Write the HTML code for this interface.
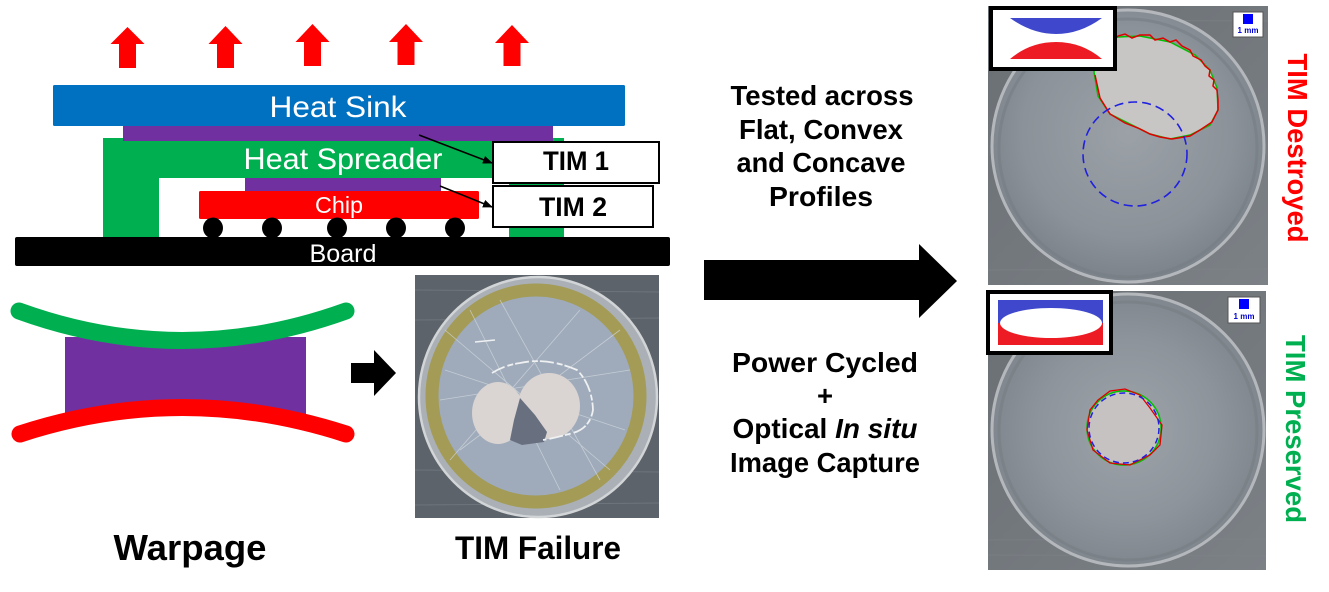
<!DOCTYPE html>
<html><head><meta charset="utf-8"><style>
html,body{margin:0;padding:0;background:#fff;}
svg{display:block;}
text{font-family:"Liberation Sans",Arial,sans-serif;}
</style></head><body>
<svg width="1329" height="592" viewBox="0 0 1329 592" xmlns="http://www.w3.org/2000/svg">
<defs>
<marker id="ah" markerWidth="10" markerHeight="8" refX="9" refY="4" orient="auto" markerUnits="userSpaceOnUse">
<path d="M0,0 L10,4 L0,8 Z" fill="#000"/>
</marker>
<radialGradient id="dish1" cx="0.5" cy="0.45" r="0.55">
<stop offset="0" stop-color="#9ba1a7"/><stop offset="0.7" stop-color="#8b9299"/><stop offset="1" stop-color="#7b828a"/>
</radialGradient>
<radialGradient id="dish2" cx="0.5" cy="0.5" r="0.55">
<stop offset="0" stop-color="#9da3a9"/><stop offset="0.6" stop-color="#8d949b"/><stop offset="1" stop-color="#7c838a"/>
</radialGradient>
<linearGradient id="bgph" x1="0" y1="0" x2="1" y2="1">
<stop offset="0" stop-color="#6a6f74"/><stop offset="1" stop-color="#7c8186"/>
</linearGradient>
</defs>

<!-- red heat arrows -->
<g fill="#FF0000">
<polygon points="127.5,27 144.5,44 136,44 136,68 119,68 119,44 110.5,44"/>
<polygon points="225.5,26 242.5,44 234,44 234,68 217,68 217,44 208.5,44"/>
<polygon points="312.5,24 329.5,42 321,42 321,66 304,66 304,42 295.5,42"/>
<polygon points="406,24 423,42 414.5,42 414.5,65 397.5,65 397.5,42 389,42"/>
<polygon points="512,25 529,43 520.5,43 520.5,66 503.5,66 503.5,43 495,43"/>
</g>

<!-- package stack -->
<rect x="53" y="85" width="572" height="41" rx="1.5" fill="#0070C0"/>
<text x="338" y="117" font-size="30" fill="#fff" text-anchor="middle" textLength="137" lengthAdjust="spacingAndGlyphs">Heat Sink</text>
<path d="M103 138 H564 V237 H509 V178 H159 V237 H103 Z" fill="#00B050"/>
<rect x="123" y="126" width="430" height="15" fill="#7030A0"/>
<text x="343" y="169" font-size="30" fill="#fff" text-anchor="middle" textLength="199" lengthAdjust="spacingAndGlyphs">Heat Spreader</text>
<rect x="245" y="178" width="196" height="13" fill="#7030A0"/>
<rect x="199" y="191" width="280" height="28" rx="1.5" fill="#FF0000"/>
<text x="339" y="213" font-size="23" fill="#fff" text-anchor="middle" textLength="48" lengthAdjust="spacingAndGlyphs">Chip</text>
<g fill="#000">
<ellipse cx="213" cy="228" rx="10" ry="10.5"/>
<ellipse cx="272" cy="228" rx="10" ry="10.5"/>
<ellipse cx="337" cy="228" rx="10" ry="10.5"/>
<ellipse cx="396" cy="228" rx="10" ry="10.5"/>
<ellipse cx="455" cy="228" rx="10" ry="10.5"/>
</g>
<rect x="15" y="237" width="655" height="29" rx="2" fill="#000"/>
<text x="343" y="262" font-size="25" fill="#fff" text-anchor="middle" textLength="67" lengthAdjust="spacingAndGlyphs">Board</text>

<!-- TIM labels -->
<rect x="493" y="142" width="166" height="41" fill="#fff" stroke="#000" stroke-width="2"/>
<text x="576" y="170" font-size="27" font-weight="bold" fill="#000" text-anchor="middle" textLength="66" lengthAdjust="spacingAndGlyphs">TIM 1</text>
<rect x="493" y="186" width="160" height="41" fill="#fff" stroke="#000" stroke-width="2"/>
<text x="573" y="216" font-size="27" font-weight="bold" fill="#000" text-anchor="middle" textLength="68" lengthAdjust="spacingAndGlyphs">TIM 2</text>
<line x1="419" y1="135" x2="492" y2="163" stroke="#000" stroke-width="1.6" marker-end="url(#ah)"/>
<line x1="440" y1="186" x2="492" y2="207" stroke="#000" stroke-width="1.6" marker-end="url(#ah)"/>

<!-- warpage graphic -->
<rect x="65" y="337" width="241" height="77" fill="#7030A0"/>
<path d="M19 311 Q182 370 346 311" fill="none" stroke="#00B050" stroke-width="17" stroke-linecap="round"/>
<path d="M20 434 Q182 381 346 434" fill="none" stroke="#FF0000" stroke-width="17" stroke-linecap="round"/>
<polygon points="351,363 374,363 374,350 396,373 374,396 374,383 351,383" fill="#000"/>

<!-- TIM failure photo -->
<rect x="415" y="275" width="244" height="243" fill="#5d636a"/>
<g stroke="#7a8088" stroke-width="1" opacity="0.6">
<line x1="415" y1="290" x2="659" y2="292"/><line x1="415" y1="320" x2="659" y2="318"/>
<line x1="415" y1="470" x2="659" y2="472"/><line x1="415" y1="505" x2="659" y2="503"/>
</g>
<ellipse cx="538" cy="397" rx="119" ry="120" fill="#aab0b5" stroke="#d2d5d7" stroke-width="2.5"/>
<ellipse cx="536" cy="396" rx="104" ry="106" fill="#9fabba" stroke="#a39b56" stroke-width="13"/>
<g stroke="#d5dbe2" stroke-width="0.8" opacity="0.7" fill="none">
<line x1="445" y1="330" x2="610" y2="470"/><line x1="460" y1="450" x2="620" y2="330"/>
<line x1="470" y1="310" x2="560" y2="490"/><line x1="440" y1="400" x2="630" y2="370"/>
<line x1="500" y1="300" x2="600" y2="480"/><line x1="450" y1="460" x2="580" y2="310"/>
<line x1="445" y1="370" x2="625" y2="430"/>
</g>
<ellipse cx="498" cy="413" rx="26" ry="31" fill="#dad4d2"/>
<ellipse cx="549" cy="406" rx="31" ry="33" fill="#dad4d2"/>
<path d="M520 398 L535 415 L547 432 L544 442 L522 445 L510 440 L514 420 Z" fill="#687080"/>
<path d="M492 373 Q505 365 520 363 Q547 357 577 370 Q592 385 593 410 Q590 428 573 433 Q555 438 543 440" fill="none" stroke="#eef0f2" stroke-width="1.8" stroke-dasharray="14 3 6 2"/>
<path d="M475 342 L495 340" fill="none" stroke="#eef0f2" stroke-width="1.5"/>

<!-- bottom labels -->
<text x="190" y="560" font-size="36" font-weight="bold" fill="#000" text-anchor="middle" textLength="153" lengthAdjust="spacingAndGlyphs">Warpage</text>
<text x="538" y="559" font-size="32" font-weight="bold" fill="#000" text-anchor="middle" textLength="166" lengthAdjust="spacingAndGlyphs">TIM Failure</text>

<!-- middle text and arrow -->
<g font-size="27.5" font-weight="bold" fill="#000" text-anchor="middle">
<text x="822" y="105" textLength="183" lengthAdjust="spacingAndGlyphs">Tested across</text>
<text x="821" y="139" textLength="164" lengthAdjust="spacingAndGlyphs">Flat, Convex</text>
<text x="821" y="172" textLength="169" lengthAdjust="spacingAndGlyphs">and Concave</text>
<text x="821" y="206" textLength="104" lengthAdjust="spacingAndGlyphs">Profiles</text>
<text x="825" y="372" textLength="186" lengthAdjust="spacingAndGlyphs">Power Cycled</text>
<text x="825" y="405">+</text>
<text x="825" y="438" textLength="185" lengthAdjust="spacingAndGlyphs">Optical <tspan font-style="italic">In situ</tspan></text>
<text x="825" y="472" textLength="190" lengthAdjust="spacingAndGlyphs">Image Capture</text>
</g>
<polygon points="704,260 919,260 919,244 957,281 919,318 919,300 704,300" fill="#000"/>

<!-- top right photo -->
<rect x="988" y="6" width="280" height="279" fill="url(#bgph)"/>
<g stroke="#80858a" stroke-width="1" opacity="0.5">
<line x1="988" y1="20" x2="1268" y2="21"/><line x1="988" y1="270" x2="1268" y2="269"/>
</g>
<circle cx="1128" cy="146" r="136" fill="url(#dish1)" stroke="#b4b8bc" stroke-width="3"/>
<circle cx="1128" cy="148" r="129" fill="none" stroke="#767d84" stroke-width="3" opacity="0.6"/>
<path d="M1100 42 L1118 37 L1140 36 L1170 42 L1195 55 L1210 70 L1217 88 L1218 110 L1210 125 L1190 135 L1170 139 L1150 134 L1130 124 L1110 114 L1098 96 L1094 72 L1096 52 Z" fill="#c8c6c5" stroke="#00c000" stroke-width="1.5"/>
<path d="M1100 42 L1106 38 L1112 41 L1118 36 L1125 34 L1132 38 L1140 35 L1150 35 L1155 40 L1163 38 L1170 42 L1176 40 L1182 46 L1190 50 L1193 56 L1201 60 L1205 66 L1210 70 L1209 76 L1214 80 L1213 86 L1217 90 L1218 100 L1218 110 L1212 122 L1200 130 L1190 136 L1172 139 L1160 137 L1150 134 L1138 128 L1125 123 L1110 114 L1100 98 L1095 75" fill="none" stroke="#e00000" stroke-width="1.5"/>
<circle cx="1135" cy="154" r="52" fill="none" stroke="#2020e0" stroke-width="1.6" stroke-dasharray="9 5"/>
<rect x="991" y="8" width="124" height="61" fill="#fff" stroke="#000" stroke-width="4"/>
<path d="M1010 18 H1102 Q1080 34 1056 34 Q1032 34 1010 18 Z" fill="#3f48cc"/>
<path d="M1010 59 H1102 Q1082 42 1056 42 Q1030 42 1010 59 Z" fill="#ed1c24"/>
<rect x="1233" y="12" width="30" height="25" fill="#fff" stroke="#555" stroke-width="1"/>
<rect x="1243" y="14" width="10" height="10" fill="#0000ff"/>
<text x="1248" y="33" font-size="8" font-weight="bold" fill="#0000cc" text-anchor="middle">1 mm</text>

<!-- bottom right photo -->
<rect x="988" y="291" width="278" height="279" fill="url(#bgph)"/>
<g stroke="#80858a" stroke-width="1" opacity="0.5">
<line x1="988" y1="555" x2="1266" y2="556"/><line x1="988" y1="540" x2="1266" y2="539"/>
</g>
<circle cx="1128" cy="430" r="136" fill="url(#dish2)" stroke="#b4b8bc" stroke-width="3"/>
<circle cx="1128" cy="431" r="129" fill="none" stroke="#767d84" stroke-width="3" opacity="0.6"/>
<circle cx="1124" cy="428" r="37" fill="#c7c2c2" stroke="#00c000" stroke-width="1.5"/>
<path d="M1098 400 L1110 391 L1125 389 L1140 395 L1150 408 L1162 425 L1160 445 L1150 455 L1130 465 L1110 463 L1093 450 L1087 430 L1090 410 Z" fill="none" stroke="#e00000" stroke-width="1.3"/>
<circle cx="1124" cy="428" r="35" fill="none" stroke="#2020e0" stroke-width="1.5" stroke-dasharray="6 4"/>
<rect x="988" y="292" width="123" height="61" fill="#fff" stroke="#000" stroke-width="4"/>
<rect x="998" y="300" width="105" height="23" fill="#3f48cc"/>
<rect x="998" y="323" width="105" height="22" fill="#ed1c24"/>
<ellipse cx="1051" cy="323" rx="51" ry="15" fill="#fff"/>
<rect x="1228" y="297" width="32" height="26" fill="#fff" stroke="#555" stroke-width="1"/>
<rect x="1239" y="299" width="10" height="10" fill="#0000ff"/>
<text x="1244" y="319" font-size="8" font-weight="bold" fill="#0000cc" text-anchor="middle">1 mm</text>

<!-- vertical labels -->
<text transform="translate(1288,148) rotate(90)" x="0" y="0" font-size="28" font-weight="bold" fill="#FF0000" text-anchor="middle" textLength="189" lengthAdjust="spacingAndGlyphs">TIM Destroyed</text>
<text transform="translate(1286,429) rotate(90)" x="0" y="0" font-size="28" font-weight="bold" fill="#00B050" text-anchor="middle" textLength="188" lengthAdjust="spacingAndGlyphs">TIM Preserved</text>
</svg>
</body></html>
